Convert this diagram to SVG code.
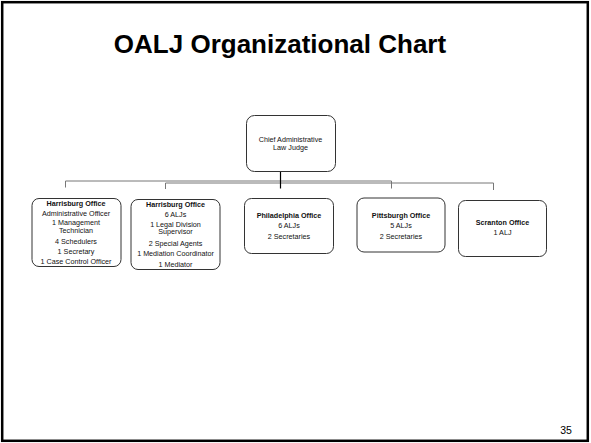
<svg xmlns="http://www.w3.org/2000/svg" width="591" height="443" viewBox="0 0 591 443">
<style>
.box{fill:#fff;stroke:#333;stroke-width:1}
.t{font-family:"Liberation Sans",Arial,sans-serif;font-size:7.2px;fill:#111;text-anchor:middle}
.b{font-weight:bold}
.c{fill:none;stroke:#777;stroke-width:1}
</style>
<rect width="591" height="443" fill="#fff"/>
<rect x="2.2" y="2.2" width="585.6" height="438.6" fill="none" stroke="#000" stroke-width="2.5"/>
<text x="280" y="53" font-family="'Liberation Sans',Arial,sans-serif" font-size="26" font-weight="bold" text-anchor="middle" fill="#000">OALJ Organizational Chart</text>
<g id="connectors">
<polyline class="c" points="65.5,187.5 65.5,181 391.5,181 391.5,188.5"/>
<polyline class="c" points="165.5,189 165.5,183 493.5,183 493.5,190"/>
<line x1="280.5" y1="165" x2="280.5" y2="171" stroke="#555" stroke-width="0.8" stroke-dasharray="1,1.5"/>
<line x1="280.5" y1="171.5" x2="280.5" y2="188.5" stroke="#000" stroke-width="1.2"/>
</g>
<g id="chief">
<rect class="box" x="246.5" y="115.5" width="89" height="56" rx="8"/>
<text class="t" x="290.5" y="142">Chief Administrative</text>
<text class="t" x="290.5" y="150">Law Judge</text>
</g>
<g id="harrisburg1">
<rect class="box" x="32" y="198.5" width="89" height="68" rx="7"/>
<text class="t b" x="76" y="205.5">Harrisburg Office</text>
<text class="t" x="76" y="215.5">Administrative Officer</text>
<text class="t" x="76" y="225">1 Management</text>
<text class="t" x="76" y="232.5">Technician</text>
<text class="t" x="76" y="243.5">4 Schedulers</text>
<text class="t" x="76" y="253.5">1 Secretary</text>
<text class="t" x="76" y="263.5">1 Case Control Officer</text>
</g>
<g id="harrisburg2">
<rect class="box" x="131" y="199.5" width="89" height="70" rx="7"/>
<text class="t b" x="175.5" y="206.5">Harrisburg Office</text>
<text class="t" x="175.5" y="216.5">6 ALJs</text>
<text class="t" x="175.5" y="226.5">1 Legal Division</text>
<text class="t" x="175.5" y="234">Supervisor</text>
<text class="t" x="175.5" y="246">2 Special Agents</text>
<text class="t" x="175.5" y="256">1 Mediation Coordinator</text>
<text class="t" x="175.5" y="267">1 Mediator</text>
</g>
<g id="philadelphia">
<rect class="box" x="244.5" y="198.5" width="89" height="55" rx="7"/>
<text class="t b" x="289" y="218">Philadelphia Office</text>
<text class="t" x="289" y="228">6 ALJs</text>
<text class="t" x="289" y="239">2 Secretaries</text>
</g>
<g id="pittsburgh">
<rect class="box" x="357" y="198" width="88" height="54" rx="7"/>
<text class="t b" x="401" y="218">Pittsburgh Office</text>
<text class="t" x="401" y="228">5 ALJs</text>
<text class="t" x="401" y="239">2 Secretaries</text>
</g>
<g id="scranton">
<rect class="box" x="458.5" y="200.5" width="88" height="56" rx="7"/>
<text class="t b" x="502.5" y="225">Scranton Office</text>
<text class="t" x="502.5" y="235">1 ALJ</text>
</g>
<text x="566" y="434" font-family="'Liberation Sans',Arial,sans-serif" font-size="10.5" text-anchor="middle" fill="#000">35</text>
</svg>
